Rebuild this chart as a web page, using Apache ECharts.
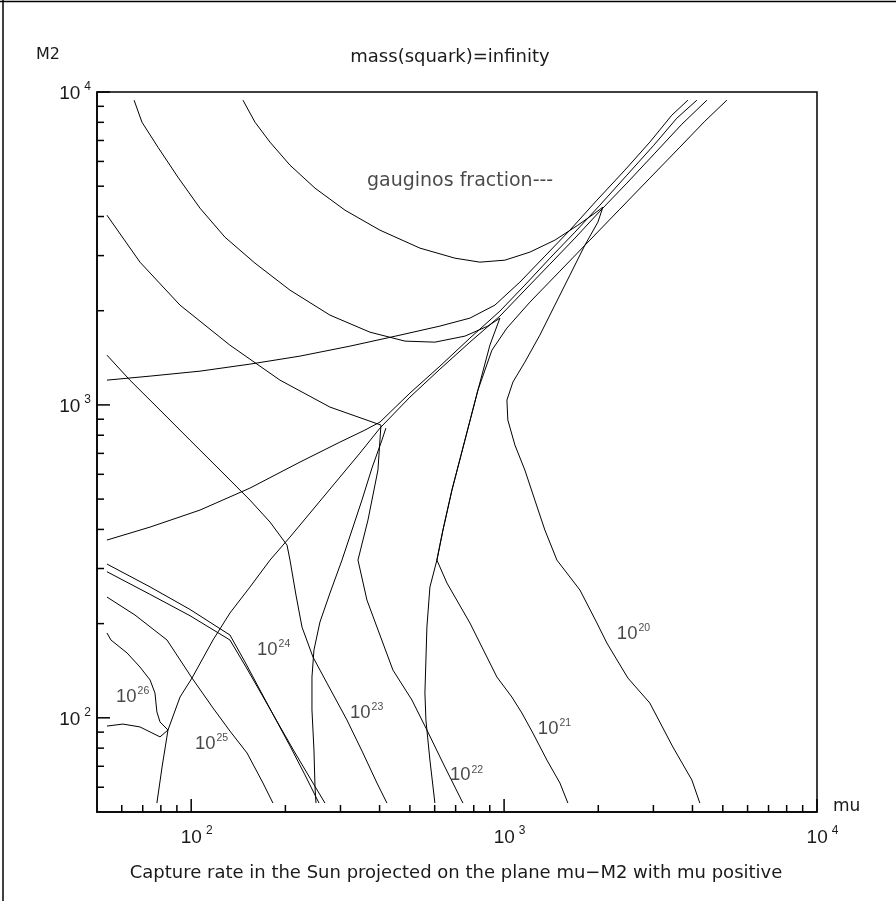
<!DOCTYPE html>
<html><head><meta charset="utf-8">
<script src="https://cdn.jsdelivr.net/npm/echarts@6/dist/echarts.min.js"></script>
<style>html,body{margin:0;padding:0;background:#fff}#c{width:896px;height:901px}</style>
</head><body><div id="c"></div>
<script>
// axis ranges
const X_MIN = 50, X_MAX = 10000, Y_MIN = 50, Y_MAX = 10000;
// tick values
const majorTicks = [100, 1000, 10000];
const minorTicks = [60,70,80,90,200,300,400,500,600,700,800,900,2000,3000,4000,5000,6000,7000,8000,9000];

// capture-rate contours, points are [mu, M2]
const rate26 = [[53.8,186.6],[55.4,177.3],[62.4,161.1],[68.6,145.3],[73.9,132.1],[76.6,120.0],[77.7,104.4],[79.5,97.0],[84.3,91.4],[79.5,86.9],[68.6,93.5],[60.5,95.5],[53.8,94.1]];
const rate25 = [[53.8,243.2],[66.1,213.1],[83.7,177.3],[100.6,134.0],[117.4,107.5],[133.0,90.7],[150.8,77.2],[169.6,61.9],[182.5,53.4]];
const rate24a = [[53.8,310.0],[73.9,262.0],[99.1,222.0],[133.0,183.9],[148.6,150.8],[165.9,122.7],[185.2,99.9],[206.9,81.3],[231.0,65.7],[256.1,53.4]];
const rate24b = [[53.8,293.0],[73.9,248.0],[99.1,212.0],[133.0,177.3],[149.7,145.3],[168.4,118.3],[189.4,96.2],[213.1,78.3],[239.7,64.2],[267.6,53.4]];
const rate23 = [[53.8,1442],[63.7,1200],[79.5,962.5],[99.1,771.7],[123.6,619.2],[154.1,496.4],[178.6,422.3],[202.4,356.5],[206.9,319.2],[216.2,246.8],[226.0,195.0],[245.0,156.4],[271.6,129.1],[314.6,98.4],[353.9,77.2],[392.3,61.9],[422.3,53.4]];
const rate22 = [[53.8,4040],[68.6,2859],[92.1,2084],[133.0,1552],[192.2,1200],[277.7,984],[404.1,862],[395.2,619.2],[367.2,428.5],[341.2,319.2],[364.5,237.8],[392.3,195.0],[441.3,142.1],[507.5,114.0],[566.7,91.4],[637.6,71.7],[738.6,53.4]];
const rate21 = [[65.7,9414],[69.6,8009],[78.3,6663],[90.7,5343],[106.7,4253],[128.2,3436],[159.9,2838],[206.9,2327],[277.7,1936],[372.6,1708],[482.2,1599],[601.0,1587],[749.6,1659],[887.6,1786],[969.6,1894],[900.8,1552],[824.8,1115],[749.6,771.7],[681.2,534.3],[637.6,398.1],[609.9,319.2],[656.7,269.6],[777.7,200.9],[837.0,173.4],[948.5,135.0],[1059,116.5],[1140,103.6],[1236,89.4],[1370,73.3],[1508,61.9],[1599,53.4]];
const rate20 = [[146.4,9414],[159.9,8009],[178.6,6913],[206.9,5837],[248.7,4928],[310.0,4192],[401.1,3618],[538.3,3170],[696.4,2944],[837.0,2859],[1006,2901],[1209,3078],[1453,3362],[1721,3753],[1950,4100],[2069,4285],[1994,3837],[1812,3240],[1623,2598],[1453,2084],[1301,1671],[1165,1370],[1067,1183],[1021,1036],[1028,894.2],[1083,743.9],[1165,619.2],[1254,496.4],[1350,398.1],[1475,319.2],[1747,256.1],[1980,200.9],[2130,173.4],[2226,161.1],[2487,134.0],[2922,111.5],[3462,80.7],[3981,63.3],[4223,53.4]];

// gaugino-fraction contours
const gauginoH = [[53.8,1200],[73.9,1236],[106.7,1282],[154.1,1350],[222.7,1432],[321.7,1541],[464.7,1671],[623.6,1786],[777.7,1894],[934.5,2084],[1123,2468],[1350,2988],[1623,3618],[1980,4511],[2432,5626],[2922,6913],[3436,8432],[3866,9414]];
const gauginoG = [[53.8,369.9],[73.9,407.0],[106.7,461.2],[154.1,542.2],[222.7,656.7],[298.8,760.5],[359.2,830.8],[401.1,881.0],[500.1,1091],[623.6,1330],[777.7,1635],[969.6,1994],[1165,2414],[1401,2944],[1684,3565],[2024,4349],[2468,5422],[3010,6761],[3565,8249],[4130,9414]];
const gauginoD = [[77.7,53.4],[80.7,69.6],[84.3,91.4],[92.1,116.5],[100.6,134.0],[117.4,177.3],[133.0,216.2],[154.1,261.7],[178.6,319.2],[206.9,378.2],[239.7,451.1],[288.0,562.5],[346.2,701.5],[401.1,843.0],[500.1,1059],[623.6,1301],[777.7,1587],[969.6,1922],[1165,2327],[1401,2817],[1684,3411],[2024,4160],[2468,5113],[3033,6375],[3699,7890],[4446,9414]];
const gauginoV1 = [[250.5,53.4],[248.7,60.1],[246.8,78.9],[243.2,105.9],[243.2,135.0],[246.8,164.7],[257.9,202.3],[277.7,250.5],[303.3,319.2],[326.5,398.1],[351.3,496.4],[378.2,628.3],[407.0,771.7],[419.0,843.0]];
const gauginoV2 = [[601.0,53.4],[579.3,73.3],[562.5,98.4],[558.4,120.0],[566.7,195.0],[579.3,261.7],[609.9,319.2],[637.6,398.1],[681.2,534.3],[749.6,771.7],[824.8,1115],[914.2,1496],[1021,1760],[1209,2130],[1508,2676],[1880,3362],[2344,4223],[2922,5304],[3645,6663],[4381,8066],[5150,9414]];

// label positions [mu, M2, exponent]
const rateLabels = [[57.5,117.4,26],[102.8,83.1,25],[162.3,165.9,24],[321.7,104.4,23],[671,65.7,22],[1282,92.8,21],[2293,186.6,20]];
const noteLabel = [[364.6,5190,'gauginos fraction---']];

const curves = [rate26, rate25, rate24a, rate24b, rate23, rate22, rate21, rate20,
                gauginoH, gauginoG, gauginoD, gauginoV1, gauginoV2];

const chart = echarts.init(document.getElementById('c'), null, {renderer:'canvas'});
const FONT = 'Liberation Sans';
const TXT = '#1a1a1a';
function powLabel(v){
  const e = Math.log10(v);
  if (Math.abs(e - Math.round(e)) > 1e-6) return '';
  return '{b|10}{s|' + Math.round(e) + '}';
}
function richFor(padLeft){
  return {
    b: {fontSize: 19, fontFamily: FONT, color: TXT, lineHeight: 22, verticalAlign: 'bottom', padding: [0,0,0,padLeft]},
    s: {fontSize: 12, fontFamily: FONT, color: TXT, lineHeight: 12, verticalAlign: 'top', padding: [0,0,0,4]}
  };
}
const series = curves.map(c => ({
  type: 'line', data: c, showSymbol: false, symbol: 'none', smooth: false,
  lineStyle: {color: '#000', width: 1}, silent: true, animation: false, z: 3
}));
// ticks drawn through the axis scales
const tickData = majorTicks.map(v => [v, 1]).concat(minorTicks.map(v => [v, 0]));
series.push({
  type: 'custom', data: tickData, silent: true, animation: false, z: 5, clip: false,
  renderItem: function(params, api){
    const v = api.value(0), major = api.value(1);
    const len = major ? 13 : 7;
    const px = api.coord([v, Y_MIN]);
    const py = api.coord([X_MIN, v]);
    return {type: 'group', children: [
      {type: 'line', shape: {x1: px[0], y1: px[1], x2: px[0], y2: px[1] - len}, style: {stroke: '#000', lineWidth: 1.5}},
      {type: 'line', shape: {x1: py[0], y1: py[1], x2: py[0] + len, y2: py[1]}, style: {stroke: '#000', lineWidth: 1.5}}
    ]};
  }
});
series.push({
  type: 'scatter', data: rateLabels, symbolSize: 0, silent: true, animation: false, z: 6,
  label: {show: true, position: 'right', distance: 0,
    formatter: p => '{b|10}{s|' + p.data[2] + '}',
    rich: {
      b: {fontSize: 18.5, fontFamily: FONT, color: TXT, lineHeight: 20, verticalAlign: 'bottom'},
      s: {fontSize: 10.5, fontFamily: FONT, color: TXT, lineHeight: 10, verticalAlign: 'top', padding: [0,0,0,1]}
    }}
});
series.push({
  type: 'scatter', data: noteLabel, symbolSize: 0, silent: true, animation: false, z: 6,
  label: {show: true, position: 'right', distance: 0, formatter: p => p.data[2],
    fontSize: 19, fontFamily: 'DejaVu Sans', color: TXT}
});

chart.setOption({
  animation: false,
  backgroundColor: '#fff',
  grid: {left: 97, top: 92, width: 720, height: 720, show: true, borderColor: '#000', borderWidth: 1.5, backgroundColor: 'transparent'},
  xAxis: {type: 'log', logBase: 10, min: X_MIN, max: X_MAX,
    axisLine: {show: true, lineStyle: {color: '#000', width: 1.5}},
    axisTick: {show: false}, splitLine: {show: false}, minorTick: {show: false},
    axisLabel: {show: true, margin: 13, formatter: powLabel, rich: richFor(11), showMinLabel: true, showMaxLabel: true}
  },
  yAxis: {type: 'log', logBase: 10, min: Y_MIN, max: Y_MAX,
    axisLine: {show: true, lineStyle: {color: '#000', width: 1.5}},
    axisTick: {show: false}, splitLine: {show: false}, minorTick: {show: false},
    axisLabel: {show: true, margin: 6, formatter: powLabel, rich: richFor(0), showMinLabel: true, showMaxLabel: true}
  },
  graphic: [
    {type: 'line', shape: {x1: 3, y1: 0, x2: 3, y2: 901}, style: {stroke: '#000', lineWidth: 1.5}},
    {type: 'line', shape: {x1: 0, y1: 1.5, x2: 896, y2: 1.5}, style: {stroke: '#000', lineWidth: 1.5}},
    {type: 'text', x: 36, y: 55, style: {text: 'M2', font: '16px "DejaVu Sans"', fill: TXT, textVerticalAlign: 'middle'}},
    {type: 'text', x: 450, y: 57, style: {text: 'mass(squark)=infinity', font: '18px "DejaVu Sans"', fill: TXT, textAlign: 'center', textVerticalAlign: 'middle'}},
    {type: 'text', x: 833, y: 807, style: {text: 'mu', font: '17px "DejaVu Sans"', fill: TXT, textAlign: 'left', textVerticalAlign: 'middle'}},
    {type: 'text', x: 456, y: 873, style: {text: 'Capture rate in the Sun projected on the plane mu\u2212M2 with mu positive', font: '18px "DejaVu Sans"', fill: TXT, textAlign: 'center', textVerticalAlign: 'middle'}}
  ],
  series: series
});
</script></body></html>
